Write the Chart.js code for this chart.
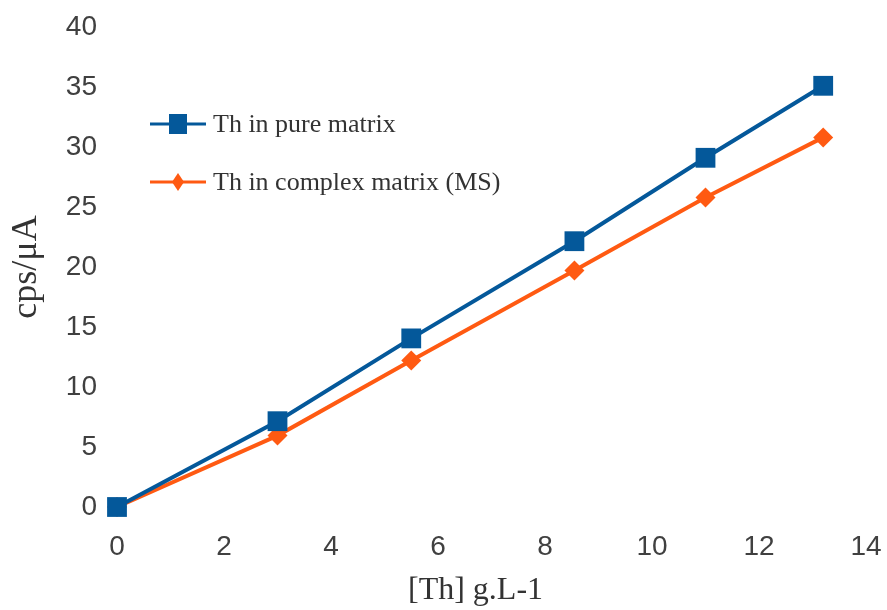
<!DOCTYPE html>
<html>
<head>
<meta charset="utf-8">
<script src="https://cdn.jsdelivr.net/npm/chart.js@4/dist/chart.umd.min.js"></script>
<style>
  html, body { margin: 0; padding: 0; background: #fff; }
  #wrap { width: 887px; height: 610px; }
</style>
</head>
<body>
<div id="wrap"><canvas id="canvas" width="887" height="610"></canvas></div>
<script>
const concentration = [0, 3.0, 5.5, 8.55, 11.0, 13.2]
const pureMatrix = [0, 7.15, 14.05, 22.15, 29.1, 35.1]
const complexMatrix = [0, 5.95, 12.2, 19.7, 25.8, 30.8]
const seriesLabels = ['Th in pure matrix', 'Th in complex matrix (MS)']

const blue = '#04589a'
const orange = '#ff5a12'

const toPoints = (ys) => ys.map((y, i) => ({ x: concentration[i], y }))

// legend drawn inside the plot, line + marker like the original
const insideLegend = {
  id: 'insideLegend',
  afterDraw(chart) {
    const { ctx, chartArea } = chart
    const x0 = chartArea.left + 33
    const x1 = chartArea.left + 89
    const rows = [chartArea.top + 97, chartArea.top + 155]
    ctx.save()
    chart.data.datasets.forEach((ds, i) => {
      const y = rows[i]
      ctx.strokeStyle = ds.borderColor
      ctx.lineWidth = 3
      ctx.beginPath()
      ctx.moveTo(x0, y)
      ctx.lineTo(x1, y)
      ctx.stroke()
      ctx.fillStyle = ds.backgroundColor
      const cx = (x0 + x1) / 2
      if (ds.pointStyle === 'rect') {
        ctx.fillRect(cx - 9, y - 10, 18, 20)
      } else {
        ctx.beginPath()
        ctx.moveTo(cx, y - 9)
        ctx.lineTo(cx + 6, y)
        ctx.lineTo(cx, y + 9)
        ctx.lineTo(cx - 6, y)
        ctx.closePath()
        ctx.fill()
      }
      ctx.fillStyle = '#333'
      ctx.font = '26px "Liberation Serif", "Times New Roman", serif'
      ctx.textBaseline = 'middle'
      ctx.textAlign = 'left'
      ctx.fillText(ds.label, x1 + 7, y + 1)
    })
    ctx.restore()
  }
}

new Chart(document.getElementById('canvas'), {
  type: 'line',
  data: {
    datasets: [
      {
        label: seriesLabels[0],
        data: toPoints(pureMatrix),
        borderColor: blue,
        backgroundColor: blue,
        borderWidth: 4,
        pointStyle: 'rect',
        pointRadius: 14,
        pointBorderWidth: 0,
        clip: false
      },
      {
        label: seriesLabels[1],
        data: toPoints(complexMatrix),
        borderColor: orange,
        backgroundColor: orange,
        borderWidth: 4,
        pointStyle: 'rectRot',
        pointRadius: 10,
        pointBorderWidth: 0,
        clip: false
      }
    ]
  },
  options: {
    responsive: false,
    animation: false,
    layout: { padding: { left: 0, right: 21, top: 27, bottom: 0 } },
    plugins: {
      legend: { display: false },
      tooltip: { enabled: false }
    },
    scales: {
      x: {
        type: 'linear',
        min: 0,
        max: 14,
        grid: { display: false },
        border: { display: false },
        ticks: {
          stepSize: 2,
          padding: 15,
          color: '#404040',
          font: { family: '"Liberation Sans", Arial, sans-serif', size: 28 }
        },
        title: {
          display: true,
          text: '[Th] g.L-1    ',
          color: '#333',
          padding: 0,
          font: { family: '"Liberation Serif", "Times New Roman", serif', size: 32 }
        },
        afterFit(scale) {
          scale.height = 103
          scale.paddingLeft = 0
          scale.paddingRight = 0
        }
      },
      y: {
        min: 0,
        max: 40,
        grid: { display: false },
        border: { display: false },
        ticks: {
          stepSize: 5,
          padding: 12,
          color: '#404040',
          font: { family: '"Liberation Sans", Arial, sans-serif', size: 28 }
        },
        title: {
          display: true,
          text: 'cps/μA',
          color: '#333',
          padding: 5,
          font: { family: '"Liberation Serif", "Times New Roman", serif', size: 36 }
        },
        afterFit(scale) {
          scale.width = 117
          scale.paddingTop = 0
          scale.paddingBottom = 0
        }
      }
    }
  },
  plugins: [insideLegend]
})
</script>
</body>
</html>
